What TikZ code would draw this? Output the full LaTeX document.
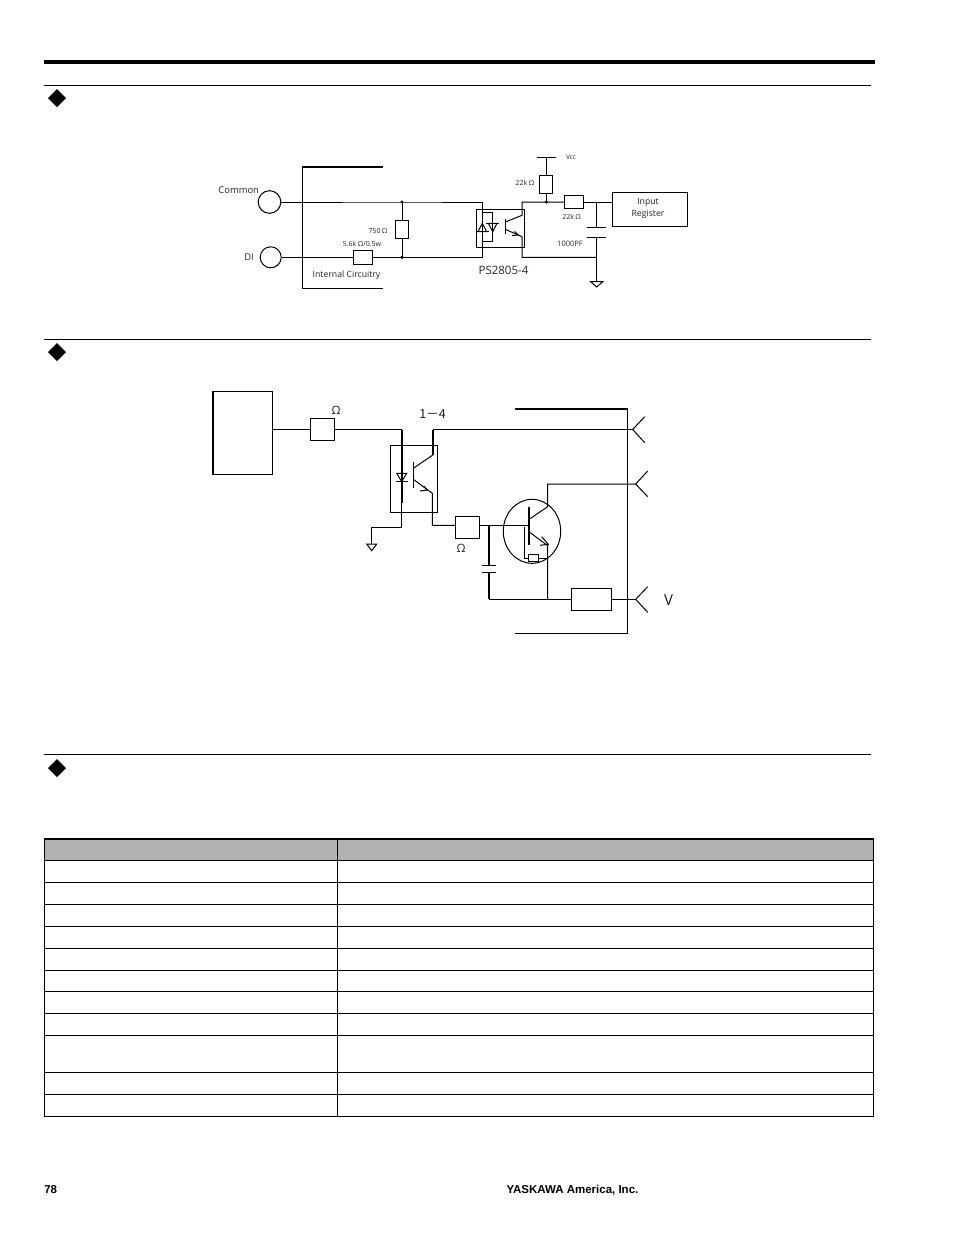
\documentclass[tikz,border=0pt]{standalone}
\usepackage{fontspec}
\setmainfont{Open Sans}
\newfontfamily\footfont{Liberation Sans}
\newfontfamily\cjkfont{Noto Sans CJK SC}
\usepackage{tikz}
\usetikzlibrary{arrows,shapes.geometric}
\tikzset{
	partbox/.style={draw,inner sep=0pt,fill=white},
	port/.style={draw,circle,inner sep=0pt},
	smalltext/.style={inner sep=0pt,text=black!85,font=\fontsize{7}{8}\selectfont},
	labeltext/.style={inner sep=0pt,text=black!85,font=\fontsize{9.4}{10}\selectfont},
	bigtext/.style={inner sep=0pt,text=black!90,font=\fontsize{12.5}{13}\selectfont},
	foottext/.style={inner sep=0pt,font=\footfont\bfseries\fontsize{11.5}{13}\selectfont},
}
\begin{document}
\begin{tikzpicture}[line cap=butt,line join=miter,x=1pt,y=-1pt,line width=1pt]
	\useasboundingbox (0,0) rectangle (954,1235);
	% page rules
	\draw[line width=3.6pt] (44,61.8)-- (875,61.8);
	\foreach \ypos in {85.3,339.5,754.5}
		\draw[line width=1pt] (44,\ypos)-- (871,\ypos);
	\foreach \ypos in {98,352,768}
		\fill (48,\ypos)-- (57,\ypos-9)-- (66,\ypos)-- (57,\ypos+9)-- cycle;
	% first circuit
	\draw (383,288.3)-- (302.3,288.3)-- (302.3,166.7);
	\draw[line width=1.6pt] (301.5,167)-- (383,167);
	\node[port,minimum size=22.6pt] (portCommon) at (269.5,202) {};
	\node[port,minimum size=21pt] (portDi) at (270.7,257.3) {};
	\node[partbox,minimum width=13.4pt,minimum height=18pt] (res750) at (402,229.3) {};
	\node[partbox,minimum width=19.4pt,minimum height=13.4pt] (resDi) at (363,257.3) {};
	\node[partbox,minimum width=48pt,minimum height=38pt,fill=none] (optoA) at (500.3,228.3) {};
	\node[partbox,minimum width=13pt,minimum height=18pt] (resVcc) at (546.3,184.3) {};
	\node[partbox,minimum width=19.4pt,minimum height=13pt] (resOut) at (574,202) {};
	\node[partbox,minimum width=75.4pt,minimum height=34.4pt] (regBox) at (650,209.5) {};
	\coordinate (jTop) at (402,202);
	\coordinate (jLow) at (402,257.3);
	\coordinate (aTop) at (482.3,202);
	\coordinate (aLow) at (482.3,257.3);
	\coordinate (cTop) at (522,202);
	\coordinate (cLow) at (522,257.3);
	\coordinate (jVcc) at (546.3,202);
	\coordinate (jCap) at (596.7,202);
	\coordinate (capTop) at (596.7,227.3);
	\coordinate (capLow) at (596.7,237.7);
	\coordinate (jGnd) at (596.7,257.3);
	\coordinate (gndA) at (596.7,281.7);
	\coordinate (vccBar) at (546.3,157.3);
	\draw (portCommon.east)-- (jTop)-- (aTop)-- (aLow)-- (jLow);
	\draw (portDi.east)-- (resDi.west);
	\draw (resDi.east)-- (jLow);
	\draw (jTop)-- (res750.north);
	\draw (res750.south)-- (jLow);
	\fill (jTop) circle (1.7pt);
	\fill (jLow) circle (1.7pt);
	\fill (jVcc) circle (1.7pt);
	\draw (482.3,212.7) rectangle (492.7,241.7);
	\draw (478,231.7)-- (486.6,231.7)-- (482.3,223.3)-- cycle;
	\draw (488.4,223.3)-- (497,223.3)-- (492.7,231.7)-- cycle;
	\draw (486,223.3)-- (499,223.3);
	\draw (476,231.7)-- (489,231.7);
	\draw[line width=1.1pt] (505.3,219)-- (505.3,234.3);
	\draw (505.3,222)-- (522,215.3)-- (cTop)-- (jVcc)-- (resOut.west);
	\draw (505.3,229.3)-- (522,236.7)-- (cLow)-- (jGnd);
	\draw (514.5,231.5)-- (518.3,235)-- (512,235.5);
	\draw (jVcc)-- (resVcc.south);
	\draw (resVcc.north)-- (vccBar);
	\draw (536.7,157.3)-- (556,157.3);
	\draw (resOut.east)-- (regBox.west |- resOut.east);
	\draw (jCap)-- (capTop);
	\draw (587.3,227.3)-- (606,227.3);
	\draw (587.3,237.7)-- (606,237.7);
	\draw (capLow)-- (gndA);
	\draw (590.7,281.7)-- (602.7,281.7)-- (596.7,287)-- cycle;
	\node[labeltext] (txtCommon) at (238.7,190.5) {Common};
	\node[labeltext] (txtDi) at (249,257.5) {DI};
	\node[smalltext] (txt750) at (378,230.5) {750$\,$Ω};
	\node[smalltext] (txtFive) at (362,244.2) {5.6k$\,$Ω/0.5w};
	\node[labeltext,font=\fontsize{8.7}{9}\selectfont] (txtInternal) at (346.5,275.5) {Internal Circuitry};
	\node[smalltext,font=\fontsize{6.5}{7}\selectfont] (txtVcc) at (571,157) {Vcc};
	\node[smalltext] (txtRa) at (525,182.8) {22k$\,$Ω};
	\node[smalltext] (txtRb) at (571.7,216.5) {22k$\,$Ω};
	\node[smalltext,font=\fontsize{7.5}{8}\selectfont] (txtCap) at (570,243.5) {1000PF};
	\node[labeltext,font=\fontsize{8.7}{9}\selectfont] (txtInput) at (648,202.5) {Input};
	\node[labeltext,font=\fontsize{8.7}{9}\selectfont] (txtReg) at (648,214.5) {Register};
	\node[labeltext,font=\fontsize{11.5}{12}\selectfont] (txtPs) at (503.5,270.5) {PS2805-4};
	% second circuit
	\node[partbox,minimum width=60pt,minimum height=83pt] (ctrlBox) at (242.7,432.8) {};
	\draw[line width=1.6pt] (213,391)-- (213,474.8);
	\node[partbox,minimum width=24.4pt,minimum height=22.4pt] (resIn) at (322.5,429.5) {};
	\node[partbox,minimum width=47.4pt,minimum height=67pt,fill=none] (optoB) at (414,478.8) {};
	\node[partbox,minimum width=24.4pt,minimum height=22pt] (resBase) at (467.5,527.3) {};
	\node[partbox,minimum width=40.4pt,minimum height=22pt] (resEm) at (591.5,599.3) {};
	\node[draw,ellipse,inner sep=0pt,minimum width=57.4pt,minimum height=64pt] (tranBig) at (532,531.3) {};
	\coordinate (inTop) at (401.7,429.5);
	\coordinate (inMid) at (401.7,502.7);
	\coordinate (inLow) at (401.7,527);
	\coordinate (inGnd) at (371.3,527);
	\coordinate (gndB) at (371.3,544);
	\coordinate (colTop) at (432.8,429.5);
	\coordinate (colBox) at (432.8,455);
	\coordinate (emiBox) at (432.3,493.3);
	\coordinate (emiLow) at (432.3,525.3);
	\coordinate (pinA) at (632.7,429.5);
	\coordinate (pinB) at (635.7,484);
	\coordinate (pinC) at (635.7,599.3);
	\coordinate (jB) at (547.7,484);
	\coordinate (jC) at (547.7,599.3);
	\coordinate (capB) at (489,525.3);
	\coordinate (capBlow) at (489,599.3);
	\coordinate (baseBar) at (529,525.3);
	\draw (ctrlBox.east |- resIn.west)-- (resIn.west);
	\draw (resIn.east)-- (inTop);
	\draw[line width=1.6pt] (inTop)-- (inMid);
	\draw (inMid)-- (inLow)-- (inGnd)-- (gndB);
	\draw (366.7,544)-- (376.7,544)-- (371.7,550.7)-- cycle;
	\draw (396.7,473.3)-- (406.7,473.3)-- (401.7,481.7)-- cycle;
	\draw (396,481.9)-- (407.5,481.9);
	\draw[line width=1.1pt] (413.3,461.7)-- (413.3,487.7);
	\draw (413.3,468.3)-- (colBox);
	\draw[line width=1.6pt] (colBox)-- (colTop);
	\draw (colTop)-- (pinA);
	\draw (413.3,479.3)-- (emiBox)-- (emiLow)-- (resBase.west |- emiLow);
	\draw (424,486)-- (427,490)-- (420,491);
	\draw (resBase.east |- baseBar)-- (baseBar);
	\draw[line width=1.6pt] (capB)-- (489,565.7);
	\draw (481.7,565.7)-- (496,565.7);
	\draw (481.7,572.3)-- (496,572.3);
	\draw[line width=1.6pt] (489,572.3)-- (capBlow);
	\draw (capBlow)-- (jC)-- (resEm.west);
	\draw (resEm.east)-- (pinC);
	\draw (pinB)-- (jB)-- (547.7,506.7)-- (529,519.3);
	\draw (jC)-- (547.7,545.7)-- (529,531.7);
	\draw (541.7,536.7)-- (548.3,544.3)-- (540,545.3);
	\draw[line width=1.6pt] (529,507.3)-- (529,545);
	\node[partbox,minimum width=9.7pt,minimum height=6.6pt] (resSmall) at (533.8,558) {};
	\draw (524.3,526.7)-- (524.3,558)-- (resSmall.west);
	\draw (resSmall.east)-- (547.7,558);
	\draw (515,633.3)-- (627.7,633.3)-- (627.7,409);
	\draw[line width=1.6pt] (515,409)-- (628.2,409);
	\draw (644.7,416.7)-- (pinA)-- (644.7,442.7);
	\draw (647.7,471)-- (pinB)-- (647.7,496.7);
	\draw (647.7,586.7)-- (pinC)-- (647.7,612.3);
	\node[labeltext,font=\fontsize{11.5}{12}\selectfont] (txtOhmA) at (336,410.5) {Ω};
	\node[bigtext] (txtOpto) at (432.5,414) {\cjkfont 1－4};
	\node[labeltext,font=\fontsize{11.5}{12}\selectfont] (txtOhmB) at (461,548) {Ω};
	\node[bigtext,font=\fontsize{15}{16}\selectfont] (txtVolt) at (668.5,600) {V};
	% table
	\fill[black!30] (44.5,839)-- (873.5,839)-- (873.5,860.3)-- (44.5,860.3)-- cycle;
	\foreach \ypos in {860.3,882.3,904.3,926.2,948,970,991.8,1013.7,1035.3,1072.3,1094.3,1116.3}
		\draw[line width=1pt] (44.5,\ypos)-- (873.5,\ypos);
	\draw[line width=2pt] (43.5,839)-- (874,839);
	\foreach \xpos in {44.4,337.2,873.4}
		\draw[line width=1pt] (\xpos,838)-- (\xpos,1116.8);
	% footer
	\node[foottext,anchor=west] (txtPage) at (43.8,1190) {78};
	\node[foottext,anchor=west] (txtMaker) at (506,1190) {YASKAWA America, Inc.};
\end{tikzpicture}
\end{document}
